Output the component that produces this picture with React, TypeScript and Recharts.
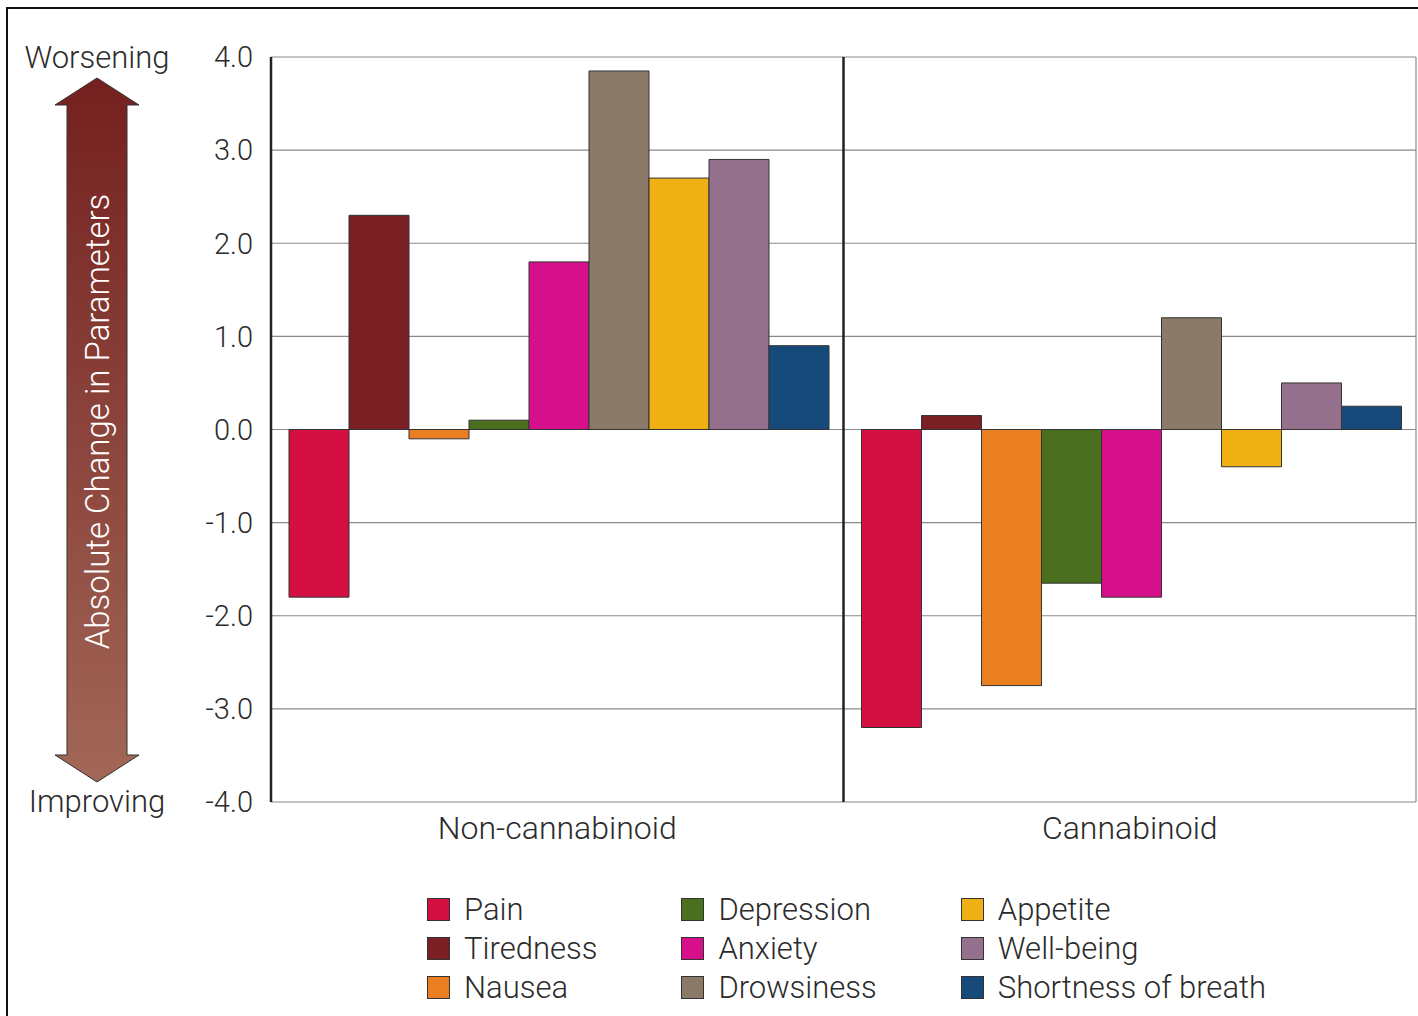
import { BarChart, Bar, XAxis, YAxis, CartesianGrid, Legend } from "recharts"

const groups = ["Non-cannabinoid", "Cannabinoid"]
const symptoms = [
  "Pain",
  "Tiredness",
  "Nausea",
  "Depression",
  "Anxiety",
  "Drowsiness",
  "Appetite",
  "Well-being",
  "Shortness of breath",
]
const colors = [
  "#d40f41",
  "#7a1f24",
  "#e97f20",
  "#4a701f",
  "#d6108a",
  "#8b7a68",
  "#eeb013",
  "#95708d",
  "#154a7a",
]
const nonCannabinoid = [-1.8, 2.3, -0.1, 0.1, 1.8, 3.85, 2.7, 2.9, 0.9]
const cannabinoid = [-3.2, 0.15, -2.75, -1.65, -1.8, 1.2, -0.4, 0.5, 0.25]
const yTicks = [-4, -3, -2, -1, 0, 1, 2, 3, 4]

const seriesByGroup = [nonCannabinoid, cannabinoid]
const data = groups.map((g, gi) => {
  const row: Record<string, string | number> = { group: g }
  symptoms.forEach((s, si) => {
    row[s] = seriesByGroup[gi][si]
  })
  return row
})

const FONT = "Roboto, 'Liberation Sans', sans-serif"
const TEXT = "#2b2b2b"

function ArrowLabel(props: any) {
  const vb = props.viewBox || { x: 0, y: 57, width: 271, height: 745 }
  const top = vb.y + 21
  const bottom = vb.y + vb.height - 20
  const cx = 97
  const shaft = 30
  const head = 42
  const headLen = 27
  const pts = [
    [cx, top],
    [cx + head, top + headLen],
    [cx + shaft, top + headLen],
    [cx + shaft, bottom - headLen],
    [cx + head, bottom - headLen],
    [cx, bottom],
    [cx - head, bottom - headLen],
    [cx - shaft, bottom - headLen],
    [cx - shaft, top + headLen],
    [cx - head, top + headLen],
  ]
  const midY = vb.y + vb.height / 2 - 8
  return (
    <g>
      <defs>
        <linearGradient id="arrowGrad" x1="0" y1="0" x2="0" y2="1">
          <stop offset="0%" stopColor="#74201f" />
          <stop offset="100%" stopColor="#a26757" />
        </linearGradient>
      </defs>
      <polygon
        points={pts.map((p) => p.join(",")).join(" ")}
        fill="url(#arrowGrad)"
        stroke="#333"
        strokeWidth={1}
      />
      <text
        x={cx}
        y={midY}
        transform={`rotate(-90, ${cx}, ${midY})`}
        textAnchor="middle"
        dominantBaseline="central"
        fill="#fff"
        fontSize={33}
        fontFamily={FONT}
        fontWeight={300}
      >
        Absolute Change in Parameters
      </text>
      <text x={cx} y={vb.y + 11} textAnchor="middle" fill={TEXT} fontSize={31} fontFamily={FONT} fontWeight={300}>
        Worsening
      </text>
      <text x={cx} y={vb.y + vb.height + 10} textAnchor="middle" fill={TEXT} fontSize={31} fontFamily={FONT} fontWeight={300}>
        Improving
      </text>
    </g>
  )
}

function LegendBox(props: any) {
  const payload = [...(props.payload || [])].sort(
    (a: any, b: any) => symptoms.indexOf(a.value) - symptoms.indexOf(b.value)
  )
  return (
    <div
      style={{
        display: "grid",
        gridTemplateRows: "repeat(3, 39px)",
        gridAutoFlow: "column",
        columnGap: 84,
        fontFamily: FONT,
        fontWeight: 300,
        fontSize: 31,
        color: TEXT,
      }}
    >
      {payload.map((p: any) => (
        <div key={p.value} style={{ display: "flex", alignItems: "center", whiteSpace: "nowrap" }}>
          <span
            style={{
              display: "inline-block",
              width: 21,
              height: 21,
              background: p.color,
              border: "1px solid #333",
              marginRight: 14,
            }}
          />
          <span>{p.value}</span>
        </div>
      ))}
    </div>
  )
}

export default function App() {
  return (
    <div style={{ position: "absolute", left: 0, top: 0, width: 1418, height: 1016, background: "#fff" }}>
      <div
        style={{
          position: "absolute",
          left: 6,
          top: 7,
          width: 1430,
          height: 1030,
          borderLeft: "2px solid #111",
          borderTop: "2px solid #111",
        }}
      />
      <BarChart
        width={1418}
        height={1016}
        data={data}
        margin={{ top: 57, right: 2, bottom: 184, left: 0 }}
        barCategoryGap={18}
        barGap={0}
        style={{ position: "absolute", left: 0, top: 0 }}
      >
        <CartesianGrid vertical={false} stroke="#8a8a8a" strokeWidth={1.2} />
        <CartesianGrid
          horizontal={false}
          stroke="#8a8a8a"
          strokeWidth={1.2}
          verticalCoordinatesGenerator={({ offset }: any) => [offset.left + offset.width]}
        />
        <CartesianGrid
          horizontal={false}
          stroke="#222"
          strokeWidth={2.5}
          verticalCoordinatesGenerator={({ offset }: any) => [offset.left + offset.width / 2]}
        />
        <XAxis
          dataKey="group"
          height={30}
          axisLine={false}
          tickLine={false}
          tickMargin={8}
          tick={{ fill: TEXT, fontSize: 32, fontFamily: FONT, fontWeight: 300 }}
        />
        <YAxis
          width={271}
          domain={[-4, 4]}
          ticks={yTicks}
          interval={0}
          tickLine={false}
          tickMargin={12}
          axisLine={{ stroke: "#222", strokeWidth: 2.5 }}
          tickFormatter={(v: number) => v.toFixed(1)}
          tick={{ fill: TEXT, fontSize: 29, fontFamily: FONT, fontWeight: 300 }}
          label={<ArrowLabel />}
        />
        <Legend
          layout="horizontal"
          verticalAlign="middle"
          align="center"
          content={<LegendBox />}
          wrapperStyle={{ position: "absolute", left: 427, top: 890, width: "auto" }}
        />
        {symptoms.map((s, i) => (
          <Bar
            key={s}
            dataKey={s}
            name={s}
            fill={colors[i]}
            stroke="#333"
            strokeWidth={1}
            isAnimationActive={false}
          />
        ))}
      </BarChart>
    </div>
  )
}
